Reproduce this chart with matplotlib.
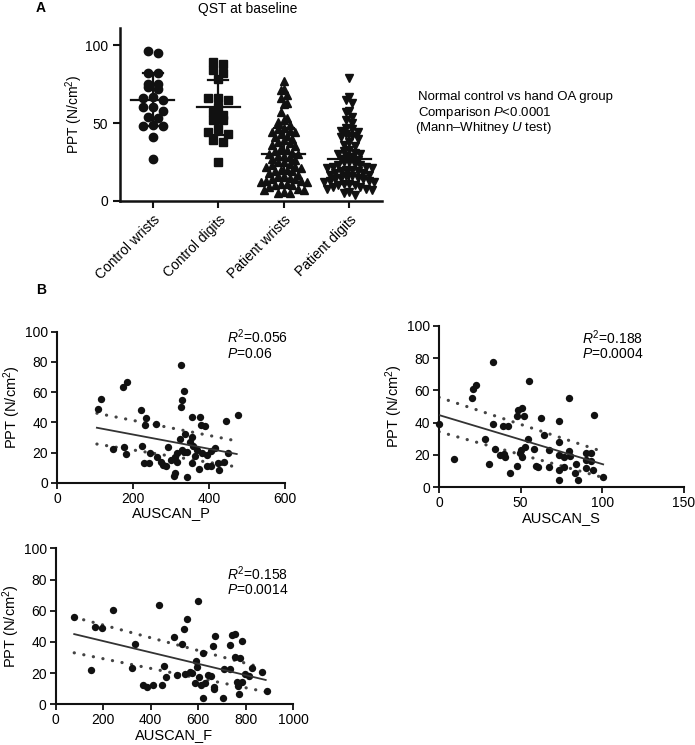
import numpy as np
import matplotlib
matplotlib.use("Agg")
import matplotlib.pyplot as plt

plt.rcParams['font.family'] = ['Liberation Sans', 'DejaVu Sans']
plt.rcParams['mathtext.fontset'] = 'custom'
plt.rcParams['mathtext.rm'] = 'Liberation Sans'
plt.rcParams['mathtext.it'] = 'Liberation Sans:italic'

# ---------------- Panel A data ----------------
groups = ["Control wrists", "Control digits", "Patient wrists", "Patient digits"]
ctrl_wrists = [96, 95, 82, 82, 75, 75, 73, 72, 67, 66, 65, 60, 60, 58, 54, 53, 49, 48, 48, 41, 27]
ctrl_digits = [89, 88, 84, 82, 78, 66, 66, 65, 60, 57, 55, 52, 52, 46, 44, 43, 39, 38, 25]
pat_wrists = [77, 72, 71, 68, 66, 63, 62, 57, 53, 52, 51, 49, 47, 46, 45, 44, 44, 43, 42, 41,
              40, 39, 38, 37, 36, 35, 34, 33, 32, 31, 30, 30, 29, 29, 28, 27, 26, 25, 25, 24,
              23, 22, 22, 21, 20, 20, 19, 19, 18, 17, 16, 16, 15, 14, 14, 13, 13, 12, 12, 11,
              11, 10, 10, 9, 8, 7, 7, 6, 5, 5]
pat_digits = [79, 67, 65, 63, 58, 57, 54, 52, 50, 47, 46, 45, 44, 43, 42, 41, 40, 38, 36, 35,
              33, 32, 31, 30, 30, 29, 28, 27, 26, 25, 25, 24, 23, 23, 22, 22, 21, 21, 20, 20,
              19, 19, 18, 18, 17, 17, 16, 16, 15, 15, 14, 14, 13, 13, 12, 12, 11, 11, 10, 10,
              9, 9, 8, 8, 7, 6, 5, 4]
group_means = [65, 60, 30, 27]
group_sds = [17, 17.5, 17, 16]
markers_A = ['o', 's', '^', 'v']

# ---------------- Panel B data ----------------
p_x = [108, 116, 147, 174, 183, 177, 182, 221, 223, 234, 232, 230, 243, 245, 261, 263, 274, 280,
       286, 293, 308, 311, 311, 315, 324, 326, 329, 327, 333, 335, 337, 342, 355, 355, 357, 355,
       368, 373, 377, 379, 390, 381, 394, 394, 405, 405, 416, 423, 427, 440, 445, 451, 477,
       328, 341, 315, 351, 363, 300]
p_y = [48.8, 55.4, 22, 63.6, 66.4, 23.8, 19, 48, 24.5, 43, 38, 13, 12.8, 20, 38.9, 17, 14, 11.7,
       11, 23.4, 4.4, 6.2, 17, 14, 28.7, 78, 54.7, 50, 60.7, 20.5, 32, 4, 43.7, 30, 24, 12.8,
       21.6, 9, 43.7, 38, 37.7, 19.4, 18.3, 11, 11.2, 21, 23, 12.8, 8.4, 13.9, 41, 19.4, 44.8,
       21.6, 20.5, 19.4, 27, 18, 15]
p_fit = [(105, 36.4), (473, 19)]
p_upper = [(105, 46), (460, 28.3)]
p_lower = [(105, 25.6), (460, 11)]

s_x = [0, 9.4, 20.4, 20.6, 22.8, 28, 30.6, 33.2, 33.2, 34.2, 37.3, 39.4, 40, 40.4, 42.4, 43.4,
       47.5, 48, 48.5, 51, 50.5, 51, 49.5, 52, 52.6, 55, 54.6, 58.3, 59.3, 60.7, 62.4, 64.4,
       67.5, 67.5, 73.4, 73.4, 73.6, 73.4, 73.4, 76.4, 76.6, 79.7, 79.7, 80, 84, 83, 85, 90,
       90, 93, 93, 94, 95, 100.5, 90]
s_y = [39.2, 17.7, 55, 60.6, 63.3, 30, 14.6, 77.7, 39, 23.7, 20, 38, 20.4, 19, 38.1, 9, 13.2,
       44, 47.8, 49.3, 23, 19, 21, 44, 25, 66, 29.7, 23.5, 13.2, 12.8, 43, 32.4, 12.8, 23, 41.2,
       27.8, 20, 10.7, 4.5, 19, 12.8, 55.5, 22.5, 19.6, 14.2, 9, 4.5, 21.4, 11.8, 21, 16, 10.7,
       44.7, 6.6, 17]
s_fit = [(0, 44.7), (100.5, 14.2)]
s_upper = [(0, 55.7), (98.4, 22.7)]
s_lower = [(0, 34.4), (98.4, 6.6)]

f_x = [78, 147, 164, 197, 240, 323, 333, 368, 383, 411, 436, 450, 455, 464, 500, 511, 531, 540,
       554, 543, 564, 576, 586, 593, 597, 600, 604, 611, 620, 621, 628, 643, 653, 664, 669, 671,
       667, 703, 710, 736, 736, 743, 754, 757, 776, 783, 764, 768, 771, 783, 797, 814, 828, 868,
       890]
f_y = [55.8, 22, 49.7, 48.7, 60.4, 23, 38.6, 12.4, 10.9, 12.4, 63.7, 12.4, 24.5, 17.3, 43, 19,
       38.6, 48, 55, 19.4, 20.9, 20.3, 13.5, 27.8, 24.1, 66, 17.7, 12.4, 32.7, 4.2, 13.5, 18.8,
       18.1, 37.4, 10.9, 43.8, 9.6, 4.2, 22.4, 22.4, 38, 44.4, 45, 30.1, 29.5, 40.8, 14.5, 11.7,
       6.6, 14.5, 19.4, 18.1, 23, 20.9, 8.7]
f_fit = [(78, 45), (885, 15.6)]
f_upper = [(78, 55.8), (870, 23.5)]
f_lower = [(78, 33), (885, 8)]

BLACK = '#111111'

fig = plt.figure(figsize=(6.95, 7.45), dpi=100)


def row_swarm(vals, row_h, spacing):
    """Bin values into horizontal rows and spread each row symmetrically
    (highest values in the middle, lower ones outward)."""
    vals = np.asarray(vals, float)
    xs = np.zeros(len(vals))
    rows = np.round(vals / row_h).astype(int)
    for r in np.unique(rows):
        idx = np.where(rows == r)[0]
        idx = idx[np.argsort(-vals[idx])]
        n = len(idx)
        slots = sorted(list(np.arange(n) - (n - 1) / 2.0), key=lambda s: (abs(s), s))
        for j, i in enumerate(idx):
            xs[i] = slots[j] * spacing
    return xs


# ---------------- Panel A ----------------
axA = fig.add_axes([120 / 695, 1 - 201 / 745, 262 / 695, 173 / 745])
all_groups = [ctrl_wrists, ctrl_digits, pat_wrists, pat_digits]
swarm_rows = [5.5, 5.5, 4.6, 4.6]
swarm_space = [0.15, 0.15, 0.088, 0.085]
for gi, (vals, mk) in enumerate(zip(all_groups, markers_A)):
    offs = row_swarm(vals, swarm_rows[gi], swarm_space[gi])
    axA.plot(gi + offs, vals, linestyle='none', marker=mk, ms=6.0, color=BLACK, mec=BLACK)
    m, sd = group_means[gi], group_sds[gi]
    axA.plot([gi - 0.33, gi + 0.33], [m, m], color=BLACK, lw=1.6, zorder=5)
    axA.plot([gi, gi], [m - sd, m + sd], color=BLACK, lw=1.6, zorder=5)
    axA.plot([gi - 0.15, gi + 0.15], [m + sd, m + sd], color=BLACK, lw=1.6, zorder=5)
    axA.plot([gi - 0.15, gi + 0.15], [m - sd, m - sd], color=BLACK, lw=1.6, zorder=5)
axA.set_xlim(-0.5, 3.5)
axA.set_ylim(0, 111)
axA.set_yticks([0, 50, 100])
axA.set_xticks(range(4))
axA.set_xticklabels(groups, rotation=45, ha='right', rotation_mode='anchor', fontsize=10)
axA.tick_params(axis='both', labelsize=10, width=1.5, length=5, direction='out', color=BLACK)
for sp in ['top', 'right']:
    axA.spines[sp].set_visible(False)
for sp in ['left', 'bottom']:
    axA.spines[sp].set_linewidth(1.8)
    axA.spines[sp].set_color(BLACK)
axA.set_ylabel('PPT (N/cm$^2$)', fontsize=10, labelpad=0)

fig.text(248 / 695, 1 - 9 / 745, 'QST at baseline', ha='center', va='center', fontsize=10)
fig.text(36 / 695, 1 - 8 / 745, 'A', ha='left', va='center', fontsize=10, fontweight='bold')
fig.text(36 / 695, 1 - 290 / 745, 'B', ha='left', va='center', fontsize=10, fontweight='bold')
fig.text(418 / 695, 1 - 97 / 745, 'Normal control vs hand OA group', ha='left', va='center', fontsize=9.5)
fig.text(418 / 695, 1 - 113 / 745, r'Comparison $\mathit{P}$<0.0001', ha='left', va='center', fontsize=9.5)
fig.text(415 / 695, 1 - 128 / 745, r'(Mann–Whitney $\mathit{U}$ test)', ha='left', va='center', fontsize=9.5)


# ---------------- Panel B ----------------
def scatter_panel(rect, xs, ys, fit, upper, lower, xmax, xticks, xlabel, r2, pval, txy):
    ax = fig.add_axes(rect)
    ax.scatter(xs, ys, s=28, color=BLACK, zorder=3, linewidths=0, clip_on=False)
    ax.plot([fit[0][0], fit[1][0]], [fit[0][1], fit[1][1]], color='#333333', lw=1.3, zorder=4)
    for band in (upper, lower):
        ax.plot([band[0][0], band[1][0]], [band[0][1], band[1][1]], color='#444444', lw=2.3,
                linestyle=(0, (0.05, 3.0)), dash_capstyle='round', zorder=2)
    ax.set_xlim(0, xmax)
    ax.set_ylim(0, 100)
    ax.set_xticks(xticks)
    ax.set_yticks([0, 20, 40, 60, 80, 100])
    ax.tick_params(axis='both', labelsize=10, width=1.3, length=4, direction='out', color=BLACK,
                   pad=2.5)
    for sp in ['top', 'right']:
        ax.spines[sp].set_visible(False)
    for sp in ['left', 'bottom']:
        ax.spines[sp].set_linewidth(1.5)
        ax.spines[sp].set_color(BLACK)
    ax.set_xlabel(xlabel, fontsize=10.5, labelpad=0.5)
    ax.set_ylabel('PPT (N/cm$^2$)', fontsize=10.5, labelpad=1)
    ax.text(txy[0], txy[1], r'$\mathit{R}^2$=' + r2, fontsize=10, ha='left', va='center')
    ax.text(txy[0], txy[2], r'$\mathit{P}$=' + pval, fontsize=10, ha='left', va='center')
    return ax


scatter_panel([57 / 695, 1 - 482.7 / 745, 228 / 695, 151 / 745], p_x, p_y, p_fit, p_upper, p_lower,
              600, [0, 200, 400, 600], 'AUSCAN_P', '0.056', '0.06', (447, 96.5, 85))
scatter_panel([439 / 695, 1 - 487.3 / 745, 245 / 695, 161.6 / 745], s_x, s_y, s_fit, s_upper, s_lower,
              150, [0, 50, 100, 150], 'AUSCAN_S', '0.188', '0.0004', (87.4, 92.8, 82.5))
scatter_panel([55.7 / 695, 1 - 704.3 / 745, 237.3 / 695, 156 / 745], f_x, f_y, f_fit, f_upper, f_lower,
              1000, [0, 200, 400, 600, 800, 1000], 'AUSCAN_F', '0.158', '0.0014', (720, 84, 73))

fig.savefig('out.png', dpi=100)
